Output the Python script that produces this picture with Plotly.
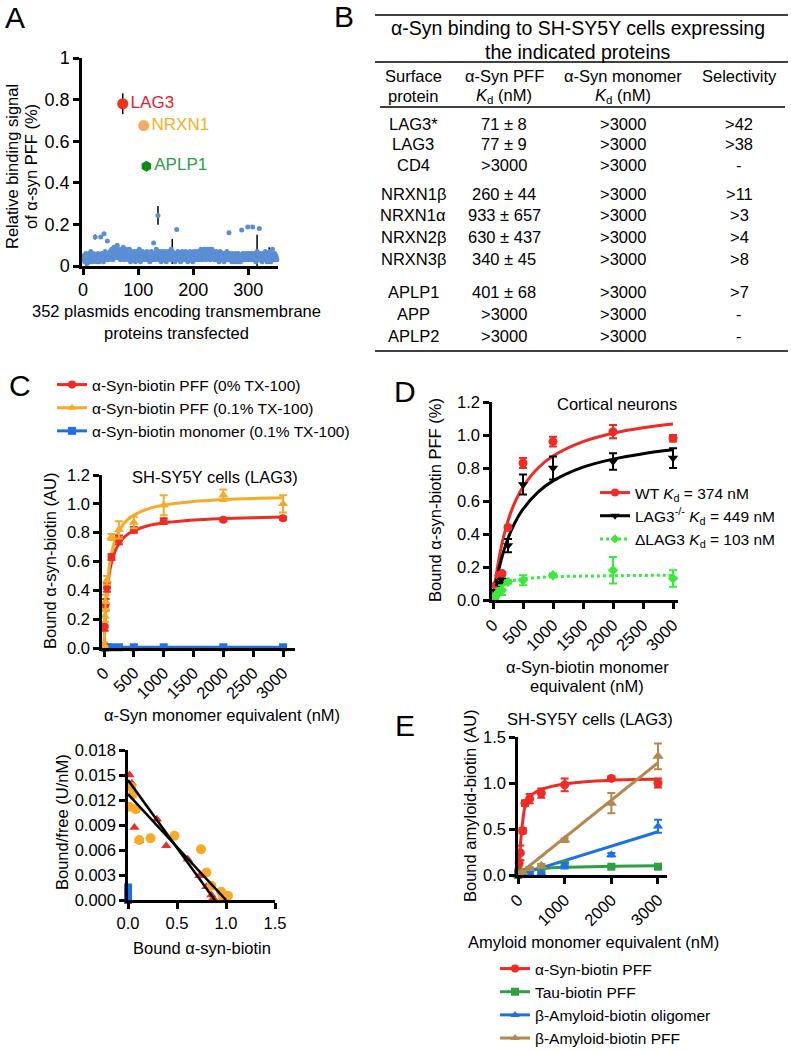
import plotly.graph_objects as go

W, H = 791, 1050
FONT = "Liberation Sans, Arial, sans-serif"

# ---------------- Panel A data ----------------
A_bg = [
    0.03, 0.05, 0.02, 0.04, 0.06, 0.03, 0.01, 0.04, 0.05, 0.03, 0.06, 0.02, 0.04, 0.07, 0.03, 0.05,
    0.02, 0.04, 0.06, 0.03, 0.05, 0.14, 0.04, 0.02, 0.05, 0.03, 0.06, 0.04, 0.02, 0.05, 0.03, 0.14,
    0.04, 0.06, 0.03, 0.05, 0.02, 0.155, 0.04, 0.07, 0.03, 0.05, 0.06, 0.12, 0.04, 0.03, 0.06, 0.05,
    0.07, 0.04, 0.06, 0.08, 0.05, 0.03, 0.07, 0.09, 0.06, 0.04, 0.08, 0.05, 0.07, 0.10, 0.06, 0.04,
    0.08, 0.05, 0.07, 0.03, 0.06, 0.08, 0.04, 0.06, 0.09, 0.05, 0.03, 0.07, 0.06, 0.08, 0.04, 0.05,
    0.07, 0.03, 0.06, 0.08, 0.05, 0.02, 0.07, 0.04, 0.06, 0.03, 0.05, 0.07, 0.04, 0.06, 0.02, 0.05,
    0.07, 0.04, 0.06, 0.03, 0.05, 0.08, 0.04, 0.02, 0.06, 0.05, 0.03, 0.07, 0.04, 0.06, 0.05, 0.03,
    0.06, 0.04, 0.05, 0.07, 0.03, 0.06, 0.04, 0.05, 0.02, 0.06, 0.04, 0.07, 0.05, 0.03, 0.06, 0.11,
    0.04, 0.06, 0.03, 0.05, 0.08, 0.04, 0.06, 0.243, 0.05, 0.03, 0.07, 0.04, 0.06, 0.02, 0.05, 0.07,
    0.04, 0.06, 0.03, 0.05, 0.07, 0.04, 0.02, 0.06, 0.05, 0.03, 0.07, 0.04, 0.06, 0.05, 0.03, 0.08,
    0.05, 0.07, 0.04, 0.06, 0.03, 0.05, 0.02, 0.06, 0.04, 0.176, 0.05, 0.07, 0.03, 0.06, 0.04, 0.05,
    0.02, 0.06, 0.04, 0.07, 0.05, 0.03, 0.06, 0.04, 0.05, 0.07, 0.03, 0.06, 0.04, 0.02, 0.05, 0.06,
    0.04, 0.07, 0.03, 0.05, 0.06, 0.04, 0.02, 0.05, 0.07, 0.04, 0.06, 0.03, 0.05, 0.07, 0.04, 0.06,
    0.05, 0.03, 0.07, 0.04, 0.06, 0.08, 0.05, 0.03, 0.07, 0.06, 0.04, 0.08, 0.05, 0.07, 0.03, 0.06,
    0.08, 0.05, 0.07, 0.04, 0.06, 0.08, 0.03, 0.07, 0.05, 0.08, 0.06, 0.04, 0.07, 0.05, 0.03, 0.06,
    0.04, 0.07, 0.05, 0.03, 0.06, 0.04, 0.02, 0.05, 0.07, 0.04, 0.06, 0.03, 0.05, 0.04, 0.06, 0.02,
    0.05, 0.03, 0.06, 0.04, 0.07, 0.03, 0.05, 0.04, 0.16, 0.06, 0.03, 0.05, 0.04, 0.02, 0.06, 0.04,
    0.03, 0.05, 0.02, 0.04, 0.06, 0.03, 0.05, 0.02, 0.04, 0.06, 0.03, 0.05, 0.04, 0.02, 0.05, 0.173,
    0.04, 0.06, 0.03, 0.05, 0.04, 0.06, 0.03, 0.05, 0.04, 0.06, 0.187, 0.05, 0.03, 0.06, 0.04, 0.05,
    0.03, 0.06, 0.04, 0.187, 0.05, 0.03, 0.06, 0.04, 0.05, 0.02, 0.06, 0.07, 0.04, 0.05, 0.03, 0.18,
    0.04, 0.06, 0.03, 0.05, 0.02, 0.04, 0.06, 0.03, 0.05, 0.04, 0.07, 0.03, 0.05, 0.02, 0.04, 0.06,
    0.03, 0.05, 0.07, 0.04, 0.02, 0.06, 0.04, 0.08, 0.03, 0.05, 0.04, 0.06, 0.03, 0.05, 0.04, 0.03,
]
A_bar_idx = [22, 136, 162, 316, 338]
A_bar_err = [0.012, 0.045, 0.06, 0.08, 0.04]

A_hits = ["LAG3", "NRXN1", "APLP1"]
A_hits_x = [72, 110, 115]
A_hits_y = [0.78, 0.675, 0.48]
A_hits_err = [0.05, 0.02, 0.015]

# ---------------- Panel B table ----------------
B_protein = ["LAG3*", "LAG3", "CD4", "NRXN1β", "NRXN1α", "NRXN2β", "NRXN3β", "APLP1", "APP", "APLP2"]
B_pff = ["71 ± 8", "77 ± 9", ">3000", "260 ± 44", "933 ± 657", "630 ± 437", "340 ± 45", "401 ± 68", ">3000", ">3000"]
B_mono = [">3000"] * 10
B_sel = [">42", ">38", "-", ">11", ">3", ">4", ">8", ">7", "-", "-"]

# ---------------- Panel C data ----------------
C_conc = [0, 12.5, 25, 50, 125, 250, 500, 1000, 2000, 3000]
C_red = [0.0, 0.15, 0.30, 0.42, 0.63, 0.75, 0.82, 0.88, 0.89, 0.90]
C_red_err = [0.02, 0.03, 0.04, 0.03, 0.02, 0.03, 0.02, 0.02, 0.01, 0.01]
C_orange = [0.02, 0.22, 0.32, 0.47, 0.77, 0.82, 0.87, 0.99, 1.06, 1.00]
C_orange_err = [0.02, 0.04, 0.05, 0.03, 0.02, 0.06, 0.04, 0.07, 0.04, 0.06]
C_blue = [0.005, 0.005, 0.005, 0.005, 0.005, 0.005, 0.005, 0.005, 0.005, 0.005]

C_fit_x = [0, 12.5, 25, 50, 75, 100, 150, 200, 300, 400, 500, 750, 1000, 1500, 2000, 2500, 3000]
C_fit_red = [0, 0.139, 0.242, 0.384, 0.478, 0.544, 0.631, 0.686, 0.752, 0.79, 0.814, 0.85, 0.868, 0.888, 0.898, 0.904, 0.908]
C_fit_orange = [0, 0.145, 0.255, 0.412, 0.518, 0.594, 0.698, 0.764, 0.845, 0.892, 0.922, 0.967, 0.991, 1.016, 1.029, 1.037, 1.042]

# Scatchard
S_red_x = [0.016, 0.04, 0.066, 0.115, 0.295, 0.39, 0.61, 0.73, 0.80, 0.85, 0.87]
S_red_y = [0.0150, 0.0140, 0.0087, 0.0071, 0.0097, 0.0065, 0.0049, 0.0029, 0.0016, 0.0006, 0.0002]
S_or_x = [0.016, 0.033, 0.05, 0.08, 0.115, 0.23, 0.475, 0.745, 0.80, 0.85, 0.95, 0.97, 1.02]
S_or_y = [0.0112, 0.0136, 0.0127, 0.0109, 0.0072, 0.0074, 0.0077, 0.0061, 0.0033, 0.0017, 0.0010, 0.0003, 0.0005]
S_blue_x = [0.0, 0.0, 0.0, 0.0]
S_blue_y = [0.0, 0.0005, 0.0010, 0.0015]
S_fit1_x = [0.0, 0.885]
S_fit1_y = [0.0144, 0.0]
S_fit2_x = [0.0, 1.0]
S_fit2_y = [0.0127, 0.0]

# ---------------- Panel D data ----------------
D_conc = [25, 50, 100, 150, 250, 500, 1000, 2000, 3000]
D_wt = [0.02, 0.09, 0.15, 0.16, 0.44, 0.83, 0.96, 1.02, 0.98]
D_wt_err = [0.01, 0.01, 0.01, 0.01, 0.01, 0.03, 0.03, 0.04, 0.02]
D_ko = [0.01, 0.05, 0.10, 0.12, 0.33, 0.70, 0.80, 0.84, 0.86]
D_ko_err = [0.01, 0.01, 0.01, 0.01, 0.04, 0.06, 0.07, 0.05, 0.06]
D_dl = [0.01, 0.03, 0.05, 0.06, 0.11, 0.12, 0.15, 0.18, 0.13]
D_dl_err = [0.01, 0.01, 0.02, 0.03, 0.01, 0.03, 0.01, 0.08, 0.05]

D_fit_x = [0, 25, 50, 100, 150, 200, 300, 400, 500, 750, 1000, 1500, 2000, 2500, 3000]
D_fit_wt = [0, 0.075, 0.142, 0.253, 0.344, 0.418, 0.534, 0.62, 0.686, 0.80, 0.873, 0.96, 1.011, 1.044, 1.067]
D_fit_ko = [0, 0.055, 0.105, 0.19, 0.262, 0.322, 0.419, 0.493, 0.551, 0.654, 0.722, 0.805, 0.854, 0.887, 0.91]
D_fit_dl = [0, 0.03, 0.051, 0.076, 0.092, 0.102, 0.115, 0.122, 0.129, 0.136, 0.141, 0.145, 0.147, 0.149, 0.150]

# ---------------- Panel E data ----------------
E_syn_x = [12.5, 25, 50, 100, 150, 250, 500, 1000, 2000, 3000]
E_syn = [0.05, 0.13, 0.24, 0.48, 0.78, 0.83, 0.89, 0.98, 1.05, 1.00]
E_syn_err = [0.05, 0.10, 0.08, 0.03, 0.03, 0.05, 0.05, 0.07, 0.02, 0.05]
E_syn_fit_x = [0, 12.5, 25, 50, 100, 150, 250, 500, 1000, 2000, 3000]
E_syn_fit = [0, 0.05, 0.14, 0.32, 0.58, 0.74, 0.85, 0.93, 0.99, 1.03, 1.04]

E_tau_x = [0, 50, 100, 250, 500, 1000, 2000, 3000]
E_tau = [0.0, 0.01, 0.03, 0.05, 0.07, 0.12, 0.09, 0.09]
E_tau_err = [0.0, 0.01, 0.01, 0.01, 0.01, 0.02, 0.01, 0.01]
E_tau_fit = [0, 0.02, 0.035, 0.055, 0.07, 0.085, 0.095, 0.10]

E_olig_x = [0, 100, 250, 500, 1000, 2000, 3000]
E_olig = [0.0, 0.01, 0.02, 0.02, 0.10, 0.22, 0.53]
E_olig_err = [0.0, 0.0, 0.01, 0.01, 0.03, 0.02, 0.07]
E_olig_fit_x = [0, 3000]
E_olig_fit = [0, 0.47]

E_pff_x = [0, 100, 250, 500, 1000, 2000, 3000]
E_pff = [0.0, 0.03, 0.07, 0.10, 0.38, 0.78, 1.29]
E_pff_err = [0.0, 0.01, 0.01, 0.02, 0.02, 0.11, 0.14]
E_pff_fit_x = [0, 3000]
E_pff_fit = [0, 1.22]

RED = "#EE2B24"
ORANGE = "#F7A928"
BLUE = "#1E6FEA"
BLUE_A = "#5B8ED4"
LGREEN = "#3BE83B"
GREEN = "#2EA043"
BROWN = "#B5884F"


def px_x(p):
    return p / W


def px_y(p):
    return 1 - p / H


def axis(dom, rng, **kw):
    d = dict(domain=dom, range=rng, showline=True, linecolor="black", linewidth=2.5,
             ticks="outside", ticklen=6, tickwidth=2.5, tickcolor="black",
             showgrid=False, zeroline=False, fixedrange=True,
             tickfont=dict(size=16.5, color="black", family=FONT))
    d.update(kw)
    return d


def err(arr, color):
    return dict(type="data", array=arr, color=color, thickness=2, width=4)


fig = go.Figure()

# ---- Panel A ----
A_x = list(range(1, len(A_bg) + 1))
A_err = [0.0] * len(A_bg)
for i, e in zip(A_bar_idx, A_bar_err):
    A_err[i - 1] = e
fig.add_trace(go.Scatter(x=A_x, y=A_bg, mode="markers", xaxis="x", yaxis="y",
                         marker=dict(size=5, color=BLUE_A),
                         error_y=dict(type="data", array=A_err, color="black", thickness=1.5, width=0),
                         cliponaxis=False, showlegend=False))
fig.add_trace(go.Scatter(x=A_hits_x, y=A_hits_y, mode="markers+text", xaxis="x", yaxis="y",
                         text=A_hits, textposition="middle right",
                         textfont=dict(size=17, family=FONT, color=["#E5202E", "#F2B31C", "#2AA048"]),
                         marker=dict(size=11, color=["#F0311E", "#F5A962", "#0E8A1E"],
                                     symbol=["circle", "circle", "hexagon"]),
                         error_y=dict(type="data", array=A_hits_err, color="black", thickness=1.5, width=0),
                         cliponaxis=False, showlegend=False))

# ---- Panel C top ----
fig.add_trace(go.Scatter(x=C_fit_x, y=C_fit_red, mode="lines", line=dict(color=RED, width=3, shape="spline"),
                         xaxis="x2", yaxis="y2", showlegend=False))
fig.add_trace(go.Scatter(x=C_fit_x, y=C_fit_orange, mode="lines", line=dict(color=ORANGE, width=3, shape="spline"),
                         xaxis="x2", yaxis="y2", showlegend=False))
fig.add_trace(go.Scatter(x=C_conc, y=C_blue, mode="lines+markers", line=dict(color=BLUE, width=3),
                         marker=dict(symbol="square", size=8, color=BLUE),
                         xaxis="x2", yaxis="y2", cliponaxis=False, showlegend=False))
fig.add_trace(go.Scatter(x=C_conc, y=C_red, mode="markers", marker=dict(symbol="circle", size=8, color=RED),
                         error_y=err(C_red_err, RED), xaxis="x2", yaxis="y2", cliponaxis=False, showlegend=False))
fig.add_trace(go.Scatter(x=C_conc, y=C_orange, mode="markers",
                         marker=dict(symbol="triangle-up", size=9, color=ORANGE),
                         error_y=err(C_orange_err, ORANGE), xaxis="x2", yaxis="y2", cliponaxis=False,
                         showlegend=False))

# ---- Panel C bottom (Scatchard) ----
fig.add_trace(go.Scatter(x=S_red_x, y=S_red_y, mode="markers", marker=dict(symbol="triangle-up", size=9, color=RED),
                         xaxis="x3", yaxis="y3", cliponaxis=False, showlegend=False))
fig.add_trace(go.Scatter(x=S_or_x, y=S_or_y, mode="markers", marker=dict(symbol="circle", size=10, color=ORANGE),
                         xaxis="x3", yaxis="y3", cliponaxis=False, showlegend=False))
fig.add_trace(go.Scatter(x=S_blue_x, y=S_blue_y, mode="markers", marker=dict(symbol="square", size=8, color=BLUE),
                         xaxis="x3", yaxis="y3", cliponaxis=False, showlegend=False))
fig.add_trace(go.Scatter(x=S_fit1_x, y=S_fit1_y, mode="lines", line=dict(color="black", width=2.5),
                         xaxis="x3", yaxis="y3", showlegend=False))
fig.add_trace(go.Scatter(x=S_fit2_x, y=S_fit2_y, mode="lines", line=dict(color="black", width=2.5),
                         xaxis="x3", yaxis="y3", showlegend=False))

# ---- Panel D ----
fig.add_trace(go.Scatter(x=D_fit_x, y=D_fit_wt, mode="lines", line=dict(color=RED, width=3, shape="spline"),
                         xaxis="x4", yaxis="y4", showlegend=False))
fig.add_trace(go.Scatter(x=D_fit_x, y=D_fit_ko, mode="lines", line=dict(color="black", width=3, shape="spline"),
                         xaxis="x4", yaxis="y4", showlegend=False))
fig.add_trace(go.Scatter(x=D_fit_x, y=D_fit_dl, mode="lines",
                         line=dict(color=LGREEN, width=3, dash="dot", shape="spline"),
                         xaxis="x4", yaxis="y4", showlegend=False))
fig.add_trace(go.Scatter(x=D_conc, y=D_wt, mode="markers", marker=dict(symbol="circle", size=9, color=RED),
                         error_y=err(D_wt_err, RED), xaxis="x4", yaxis="y4", cliponaxis=False, showlegend=False))
fig.add_trace(go.Scatter(x=D_conc, y=D_ko, mode="markers", marker=dict(symbol="triangle-down", size=9, color="black"),
                         error_y=err(D_ko_err, "black"), xaxis="x4", yaxis="y4", cliponaxis=False,
                         showlegend=False))
fig.add_trace(go.Scatter(x=D_conc, y=D_dl, mode="markers", marker=dict(symbol="diamond", size=8, color=LGREEN),
                         error_y=err(D_dl_err, LGREEN), xaxis="x4", yaxis="y4", cliponaxis=False,
                         showlegend=False))

# ---- Panel E ----
fig.add_trace(go.Scatter(x=E_syn_fit_x, y=E_syn_fit, mode="lines", line=dict(color=RED, width=3, shape="spline"),
                         xaxis="x5", yaxis="y5", showlegend=False))
fig.add_trace(go.Scatter(x=E_tau_x, y=E_tau_fit, mode="lines", line=dict(color=GREEN, width=3, shape="spline"),
                         xaxis="x5", yaxis="y5", showlegend=False))
fig.add_trace(go.Scatter(x=E_olig_fit_x, y=E_olig_fit, mode="lines", line=dict(color=BLUE, width=3),
                         xaxis="x5", yaxis="y5", showlegend=False))
fig.add_trace(go.Scatter(x=E_pff_fit_x, y=E_pff_fit, mode="lines", line=dict(color=BROWN, width=3),
                         xaxis="x5", yaxis="y5", showlegend=False))
fig.add_trace(go.Scatter(x=E_syn_x, y=E_syn, mode="markers", marker=dict(symbol="circle", size=9, color=RED),
                         error_y=err(E_syn_err, RED), xaxis="x5", yaxis="y5", cliponaxis=False, showlegend=False))
fig.add_trace(go.Scatter(x=E_tau_x, y=E_tau, mode="markers", marker=dict(symbol="square", size=8, color=GREEN),
                         error_y=err(E_tau_err, GREEN), xaxis="x5", yaxis="y5", cliponaxis=False, showlegend=False))
fig.add_trace(go.Scatter(x=E_olig_x, y=E_olig, mode="markers", marker=dict(symbol="triangle-up", size=9, color=BLUE),
                         error_y=err(E_olig_err, BLUE), xaxis="x5", yaxis="y5", cliponaxis=False, showlegend=False))
fig.add_trace(go.Scatter(x=E_pff_x, y=E_pff, mode="markers", marker=dict(symbol="triangle-up", size=10, color=BROWN),
                         error_y=err(E_pff_err, BROWN), xaxis="x5", yaxis="y5", cliponaxis=False, showlegend=False))


# ---- legend-only entries ----
def legend_entry(name, color, symbol, legend, dash="solid", size=8):
    fig.add_trace(go.Scatter(x=[None], y=[None], mode="lines+markers", name=name,
                             line=dict(color=color, width=3, dash=dash),
                             marker=dict(symbol=symbol, size=size, color=color),
                             xaxis="x4", yaxis="y4", legend=legend, showlegend=True))


legend_entry("α-Syn-biotin PFF (0% TX-100)", RED, "circle", "legend")
legend_entry("α-Syn-biotin PFF (0.1% TX-100)", ORANGE, "triangle-up", "legend")
legend_entry("α-Syn-biotin monomer (0.1% TX-100)", BLUE, "square", "legend")
legend_entry("WT <i>K</i><sub>d</sub> = 374 nM", RED, "circle", "legend2")
legend_entry("LAG3<sup>-/-</sup> <i>K</i><sub>d</sub> = 449 nM", "black", "triangle-down", "legend2")
legend_entry("ΔLAG3 <i>K</i><sub>d</sub> = 103 nM", LGREEN, "diamond", "legend2", dash="dot", size=7)
legend_entry("α-Syn-biotin PFF", RED, "circle", "legend3")
legend_entry("Tau-biotin PFF", GREEN, "square", "legend3")
legend_entry("β-Amyloid-biotin oligomer", BLUE, "triangle-up", "legend3")
legend_entry("β-Amyloid-biotin PFF", BROWN, "triangle-up", "legend3")

# ---- annotations ----
ann = []


def text(x, y, s, size=16.5, angle=0, color="black", xanchor="center"):
    ann.append(dict(x=px_x(x), y=px_y(y), xref="paper", yref="paper", text=s, showarrow=False,
                    textangle=angle, xanchor=xanchor, yanchor="middle",
                    font=dict(size=size, family=FONT, color=color)))


# panel letters
for letter, lx, ly in [("A", 15, 17), ("B", 344, 16), ("C", 20, 385), ("D", 405, 392), ("E", 405, 725)]:
    text(lx, ly, letter, size=30)

# panel A titles
text(12, 167, "Relative binding signal", angle=-90)
text(31, 167, "of α-syn PFF (%)", angle=-90)
text(176, 311, "352 plasmids encoding transmembrane")
text(176, 333, "proteins transfected")

# panel B table
text(578, 28, "α-Syn binding to SH-SY5Y cells expressing", size=19.5)
text(578, 52, "the indicated proteins", size=19.5)
col_x = [413, 504, 623, 739]
text(col_x[0], 76, "Surface")
text(col_x[0], 96, "protein")
text(col_x[1], 76, "α-Syn PFF")
text(col_x[1], 96, "<i>K</i><sub>d</sub> (nM)")
text(col_x[2], 76, "α-Syn monomer")
text(col_x[2], 96, "<i>K</i><sub>d</sub> (nM)")
text(col_x[3], 76, "Selectivity")
row_y = [124, 144, 165, 194, 215, 237, 259, 292, 314, 336]
for i, ry in enumerate(row_y):
    text(col_x[0], ry, B_protein[i])
    text(col_x[1], ry, B_pff[i])
    text(col_x[2], ry, B_mono[i])
    text(col_x[3], ry, B_sel[i])

# panel C titles
text(215, 477, "SH-SY5Y cells (LAG3)")
text(50, 561, "Bound α-syn-biotin (AU)", angle=-90)
text(222, 715, "α-Syn monomer equivalent (nM)")
text(62, 822, "Bound/free (U/nM)", angle=-90)
text(202, 948, "Bound α-syn-biotin")

# panel D titles
text(617, 404, "Cortical neurons")
text(435, 500, "Bound α-syn-biotin PFF (%)", angle=-90)
text(587, 667, "α-Syn-biotin monomer")
text(587, 686, "equivalent (nM)")

# panel E titles
text(590, 719, "SH-SY5Y cells (LAG3)")
text(470, 806, "Bound amyloid-biotin (AU)", angle=-90)
text(593, 942, "Amyloid monomer equivalent (nM)")

# table rules
shapes = []
for (x0, x1, y) in [(375, 788, 15), (375, 788, 62), (380, 785, 107), (375, 788, 351)]:
    shapes.append(dict(type="line", xref="paper", yref="paper", x0=px_x(x0), x1=px_x(x1),
                       y0=px_y(y), y1=px_y(y), line=dict(color="black", width=1.5)))

leg = dict(xanchor="left", yanchor="top", bgcolor="rgba(0,0,0,0)", borderwidth=0,
           font=dict(size=15.5, family=FONT, color="black"), tracegroupgap=0, itemwidth=30)

fig.update_layout(
    width=W, height=H, autosize=False,
    margin=dict(l=0, r=0, t=0, b=0, autoexpand=False),
    paper_bgcolor="white", plot_bgcolor="white",
    font=dict(family=FONT, color="black", size=16.5),
    xaxis=axis([px_x(82), px_x(278)], [-2, 354], tickvals=[0, 100, 200, 300], anchor="y",
               tickfont=dict(size=18, color="black", family=FONT)),
    yaxis=axis([px_y(266), px_y(58)], [0, 1], dtick=0.2, anchor="x",
               tickfont=dict(size=18, color="black", family=FONT)),
    xaxis2=axis([px_x(102), px_x(295)], [-34, 3201], dtick=500, tickangle=-45, anchor="y2"),
    yaxis2=axis([px_y(648), px_y(475)], [0, 1.2], dtick=0.2, tickformat=".1f", anchor="x2"),
    xaxis3=axis([px_x(128), px_x(275)], [0, 1.5], dtick=0.5, tickformat=".1f", anchor="y3"),
    yaxis3=axis([px_y(900), px_y(750)], [0, 0.018], dtick=0.003, tickformat=".3f", anchor="x3"),
    xaxis4=axis([px_x(492), px_x(678)], [-17, 3083], dtick=500, tickangle=-45, anchor="y4"),
    yaxis4=axis([px_y(600), px_y(402)], [0, 1.2], dtick=0.2, tickformat=".1f", anchor="x4"),
    xaxis5=axis([px_x(518), px_x(667)], [0, 3193], dtick=1000, tickangle=-45, anchor="y5"),
    yaxis5=axis([px_y(875), px_y(737)], [0, 1.5], dtick=0.5, tickformat=".1f", anchor="x5"),
    legend=dict(leg, x=px_x(52), y=px_y(368)),
    legend2=dict(leg, x=px_x(595), y=px_y(476)),
    legend3=dict(leg, x=px_x(495), y=px_y(952)),
    annotations=ann,
    shapes=shapes,
)

fig.write_html("out.html", config={"displayModeBar": False},
               post_script="document.body.style.margin='0';")
